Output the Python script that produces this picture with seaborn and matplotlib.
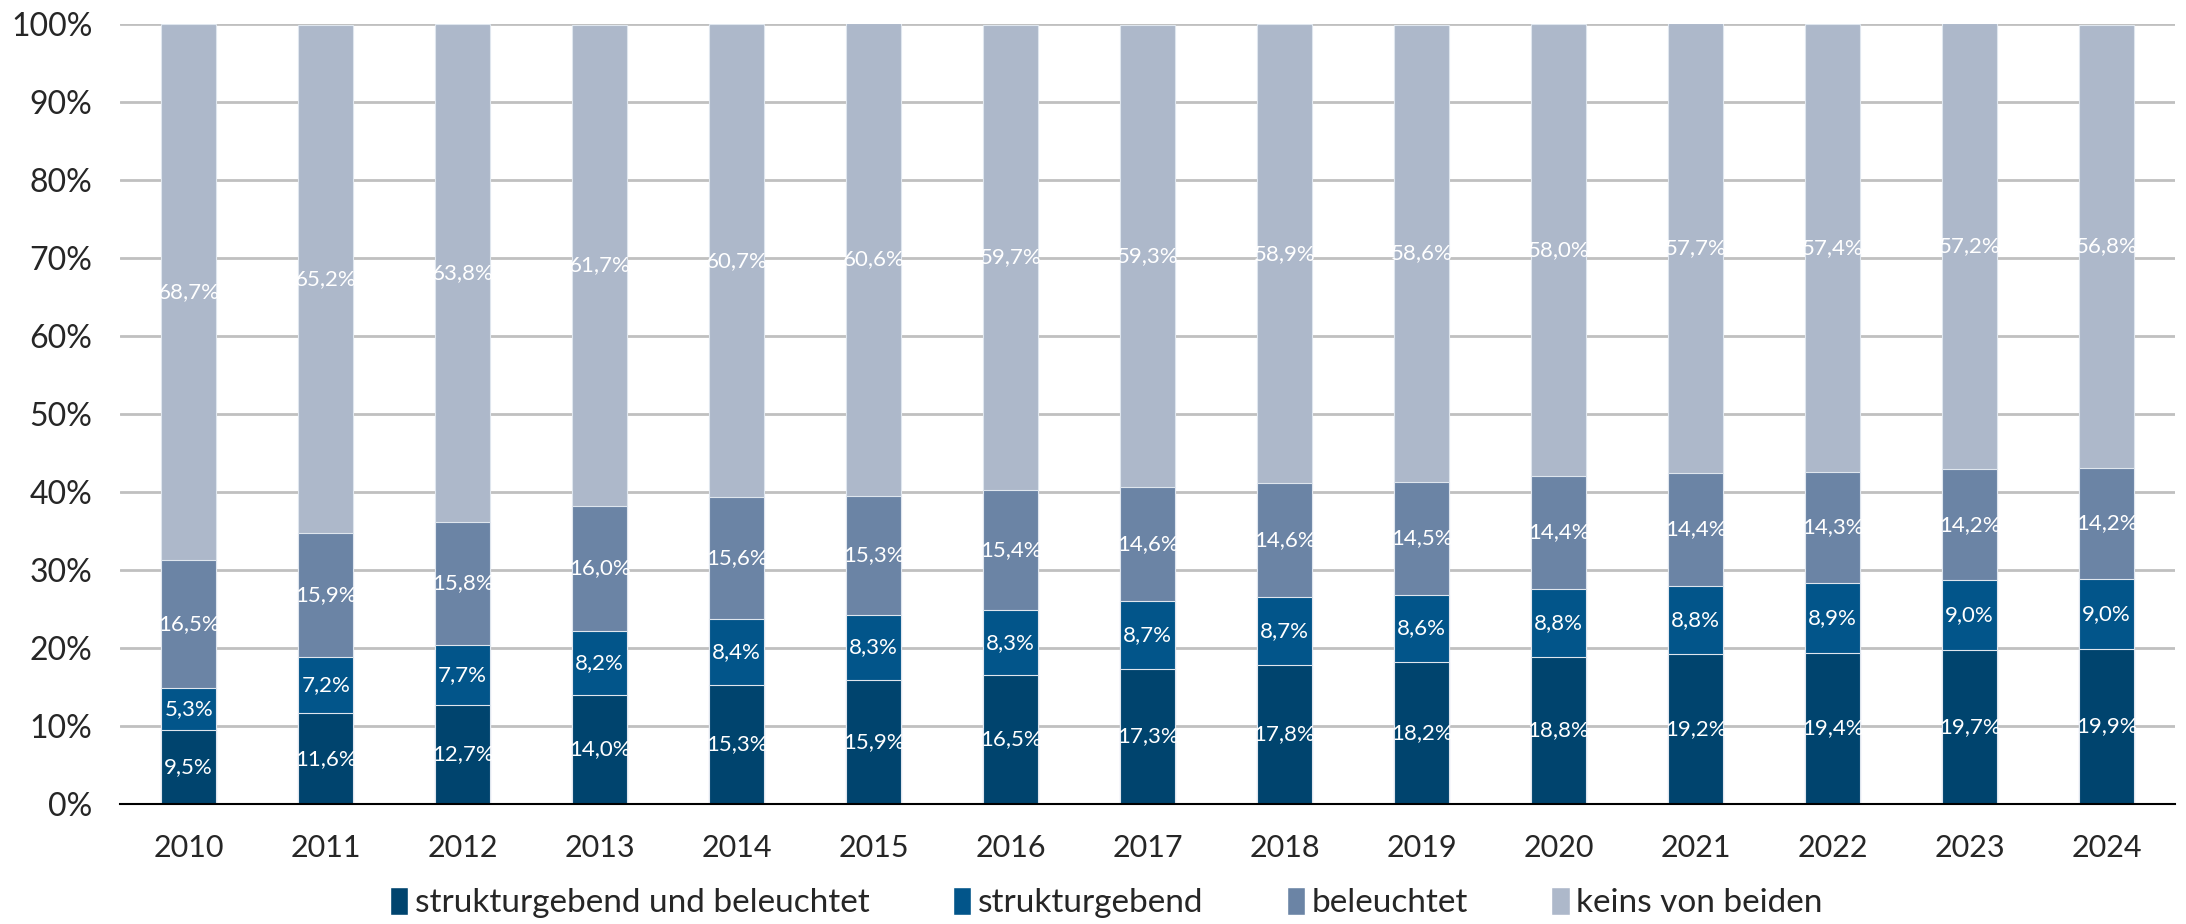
import matplotlib
matplotlib.use("Agg")
import matplotlib.pyplot as plt
import matplotlib.ticker as mticker
from matplotlib.patches import Patch
import numpy as np
import pandas as pd
import seaborn as sns

# data (percent shares per year)
years = ['2010', '2011', '2012', '2013', '2014', '2015', '2016', '2017',
         '2018', '2019', '2020', '2021', '2022', '2023', '2024']
struk_bel = [9.5, 11.6, 12.7, 14.0, 15.3, 15.9, 16.5, 17.3, 17.8, 18.2, 18.8, 19.2, 19.4, 19.7, 19.9]
struk = [5.3, 7.2, 7.7, 8.2, 8.4, 8.3, 8.3, 8.7, 8.7, 8.6, 8.8, 8.8, 8.9, 9.0, 9.0]
bel = [16.5, 15.9, 15.8, 16.0, 15.6, 15.3, 15.4, 14.6, 14.6, 14.5, 14.4, 14.4, 14.3, 14.2, 14.2]
keins = [68.7, 65.2, 63.8, 61.7, 60.7, 60.6, 59.7, 59.3, 58.9, 58.6, 58.0, 57.7, 57.4, 57.2, 56.8]

series_names = ['strukturgebend und beleuchtet', 'strukturgebend', 'beleuchtet', 'keins von beiden']
colors = ['#00446e', '#02558a', '#6b84a5', '#adb8ca']

sns.set_style("white")
plt.rcParams['font.family'] = ['Lato', 'DejaVu Sans']

df = pd.DataFrame({'year': years, 's1': struk_bel, 's2': struk, 's3': bel, 's4': keins})
cols = ['s1', 's2', 's3', 's4']
cum = df[cols].cumsum(axis=1)

fig = plt.figure(figsize=(21.86, 9.24), dpi=100)
ax = fig.add_axes([0.055, 0.130, 0.940, 0.844])

# draw cumulative bars from top layer down so each lower layer covers the rest
for i in range(3, -1, -1):
    sns.barplot(x=df['year'], y=cum[cols[i]], color=colors[i], width=0.4,
                edgecolor='#dfe6ee', linewidth=0.8, saturation=1, ax=ax)

# value labels centred in each segment
for i, c in enumerate(cols):
    bottoms = cum[c] - df[c]
    for j, v in enumerate(df[c]):
        ax.text(j, bottoms[j] + v / 2, f"{v:.1f}%".replace('.', ','),
                ha='center', va='center', color='white', fontsize=16)

ax.set_ylim(0, 100)
ax.set_xlim(-0.5, len(years) - 0.5)
ax.yaxis.set_major_locator(mticker.MultipleLocator(10))
ax.yaxis.set_major_formatter(mticker.FuncFormatter(lambda v, p: f"{v:.0f}%"))
ax.grid(axis='y', color='#c0c0c0', linewidth=2)
ax.set_axisbelow(True)
for s in ['left', 'right', 'top']:
    ax.spines[s].set_visible(False)
ax.spines['bottom'].set_color('black')
ax.spines['bottom'].set_linewidth(1.5)
ax.set_xlabel('')
ax.set_ylabel('')
ax.tick_params(axis='y', length=0, pad=20, labelsize=23)
ax.tick_params(axis='x', which='major', length=0, pad=22, labelsize=22)
ax.set_xticks(np.arange(-0.5, len(years), 1.0), minor=True)
ax.tick_params(axis='x', which='minor', length=11, width=1.5, color='black')

handles = [Patch(facecolor=colors[i], label=series_names[i]) for i in range(4)]
fig.legend(handles=handles, loc='center', bbox_to_anchor=(0.506, 0.023), ncol=4,
           frameon=False, fontsize=24, handlelength=0.55, handleheight=0.9,
           handletextpad=0.2, columnspacing=2.5)

fig.savefig('out.png', dpi=100)
